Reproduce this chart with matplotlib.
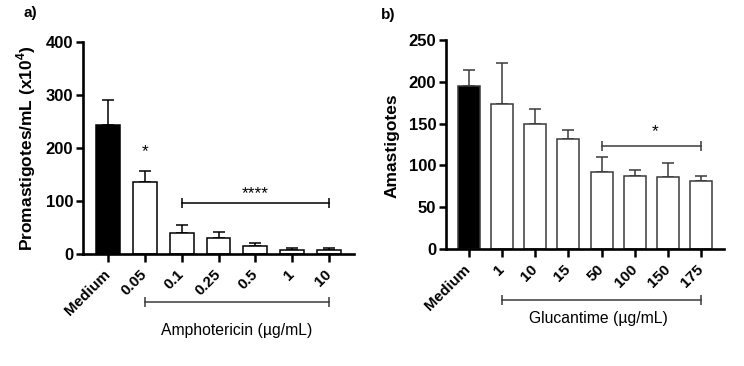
import matplotlib
matplotlib.use("Agg")
import matplotlib.pyplot as plt
import matplotlib.transforms as mtransforms
import numpy as np

plt.rcParams['font.family'] = ['Liberation Sans', 'DejaVu Sans']
plt.rcParams['mathtext.fontset'] = 'custom'
plt.rcParams['mathtext.rm'] = 'Liberation Sans'
plt.rcParams['mathtext.bf'] = 'Liberation Sans:bold'

# Panel a data
a_labels = ["Medium", "0.05", "0.1", "0.25", "0.5", "1", "10"]
a_means = [243, 135, 40, 30, 16, 8, 8]
a_err = [47, 21, 14, 11, 4, 3, 3]
a_yticks = [0, 100, 200, 300, 400]

# Panel b data
b_labels = ["Medium", "1", "10", "15", "50", "100", "150", "175"]
b_means = [195, 173, 150, 131, 92, 87, 86, 81]
b_err = [19, 49, 17, 11, 18, 8, 17, 6]
b_yticks = [0, 50, 100, 150, 200, 250]

fig = plt.figure(figsize=(7.44, 3.66), dpi=100)
W, H = 744, 366

def px_axes(x0, x1, ytop, ybot):
    return fig.add_axes([x0 / W, 1 - ybot / H, (x1 - x0) / W, (ybot - ytop) / H])

axA = px_axes(83, 354, 42, 254)
axB = px_axes(446, 724, 40, 249)

shift = mtransforms.ScaledTranslation(3 / 100, -2 / 100, fig.dpi_scale_trans)


def draw_panel(ax, labels, means, errs, yticks, ylabel, edgecol, bar_w):
    x = np.arange(len(labels))
    colors = ['black'] + ['white'] * (len(labels) - 1)
    ax.bar(x, means, width=bar_w, color=colors, edgecolor=edgecol, linewidth=1.1, zorder=2)
    ax.errorbar(x, means, yerr=[np.zeros(len(errs)), errs], fmt='none',
                ecolor=edgecol, elinewidth=1.1, capsize=4.2, capthick=1.1, zorder=1)
    ax.set_xlim(-0.68, len(labels) - 1 + 0.68)
    ax.set_ylim(0, yticks[-1])
    ax.set_yticks(yticks)
    ax.set_yticklabels([str(t) for t in yticks], fontsize=12, fontweight='bold')
    ax.set_xticks(x)
    ax.set_xticklabels(labels, fontsize=11, fontweight='bold', rotation=45,
                       ha='right', va='center', rotation_mode='anchor')
    for lab in ax.get_xticklabels():
        lab.set_transform(lab.get_transform() + shift)
    ax.tick_params(axis='x', length=6, width=1.8, pad=7)
    ax.tick_params(axis='y', length=5, width=1.8, pad=2)
    for s in ['top', 'right']:
        ax.spines[s].set_visible(False)
    for s in ['left', 'bottom']:
        ax.spines[s].set_linewidth(1.9)
    ax.set_ylabel(ylabel, fontsize=12.5, fontweight='bold')


draw_panel(axA, a_labels, a_means, a_err, a_yticks,
           r'Promastigotes/mL (x10$^{\mathbf{4}}$)', 'black', 0.65)
draw_panel(axB, b_labels, b_means, b_err, b_yticks,
           'Amastigotes', '#3a3a3a', 0.66)

axA.yaxis.set_label_coords(38 / W, 1 - 148 / H, transform=fig.transFigure)
axB.yaxis.set_label_coords(400 / W, 1 - 146 / H, transform=fig.transFigure)

# in-plot significance
axA.plot([2, 6], [97, 97], color='black', lw=1.1, marker='|', markersize=7, mew=1.1)
axA.text(4, 114, '****', ha='center', va='center', fontsize=12.5)
axA.text(1, 193, '*', ha='center', va='center', fontsize=12.5)

axB.plot([4, 7], [123, 123], color='#3a3a3a', lw=1.1, marker='|', markersize=7, mew=1.1)
axB.text(5.6, 140, '*', ha='center', va='center', fontsize=12.5)

# brackets under tick labels
trA = mtransforms.blended_transform_factory(axA.transData, fig.transFigure)
axA.plot([1, 6], [1 - 302 / H] * 2, transform=trA, clip_on=False, color='#3a3a3a',
         lw=1.1, marker='|', markersize=7, mew=1.1)
axA.text(3.5, 1 - 330 / H, 'Amphotericin (µg/mL)', transform=trA, ha='center',
         va='center', fontsize=11.3)

trB = mtransforms.blended_transform_factory(axB.transData, fig.transFigure)
axB.plot([1, 7], [1 - 300 / H] * 2, transform=trB, clip_on=False, color='#3a3a3a',
         lw=1.1, marker='|', markersize=7, mew=1.1)
axB.text(3.9, 1 - 318 / H, 'Glucantime (µg/mL)', transform=trB, ha='center',
         va='center', fontsize=11.3)

fig.text(24 / W, 1 - 13 / H, 'a)', fontsize=11, fontweight='bold', ha='left', va='center')
fig.text(381 / W, 1 - 15 / H, 'b)', fontsize=11, fontweight='bold', ha='left', va='center')

fig.savefig('out.png', dpi=100)
